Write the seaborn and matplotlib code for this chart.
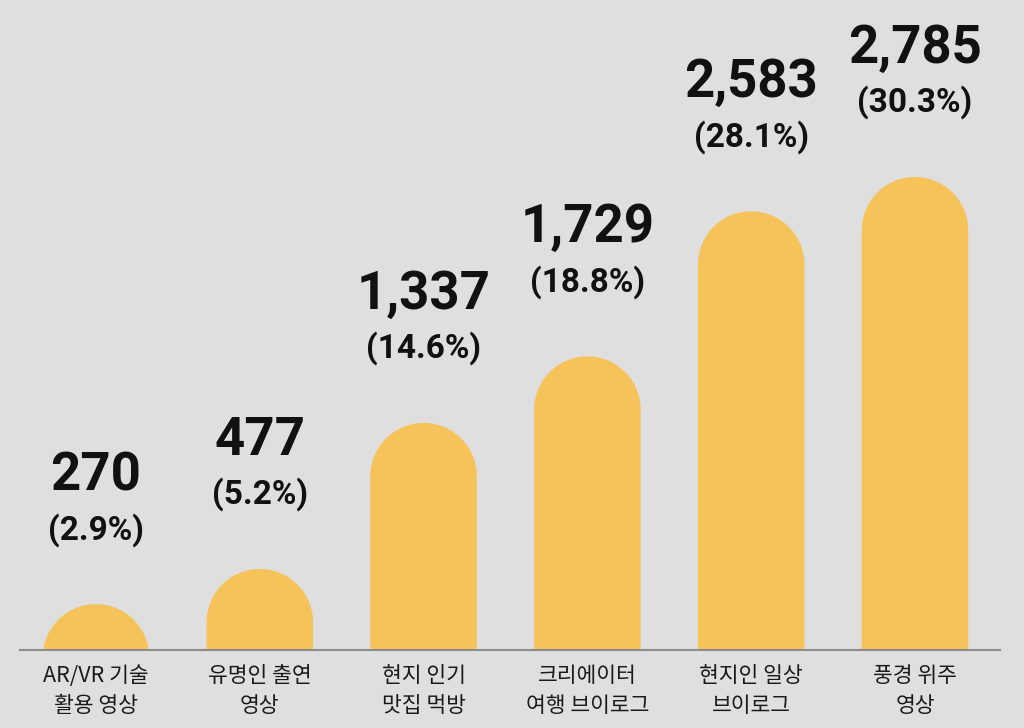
# Barres arrondies : nombre de vidéos par type de contenu
import numpy as np
import matplotlib
matplotlib.use("Agg")
import matplotlib.pyplot as plt
from matplotlib.patches import Polygon
import seaborn as sns

categories = ["AR/VR 기술\n활용 영상", "유명인 출연\n영상", "현지 인기\n맛집 먹방",
              "크리에이터\n여행 브이로그", "현지인 일상\n브이로그", "풍경 위주\n영상"]
counts   = [270, 477, 1337, 1729, 2583, 2785]
percents = [2.9, 5.2, 14.6, 18.8, 28.1, 30.3]

BG     = "#dfdfdf"
BAR    = "#f6c35b"
AXIS   = "#8c8c8c"
W, H   = 1024, 728
BAR_W  = 0.65

sns.set_theme(style="white")
plt.rcParams["font.family"] = ["Noto Sans CJK KR", "DejaVu Sans"]

fig = plt.figure(figsize=(W / 100, H / 100), dpi=100, facecolor=BG)
# axe : de x=20 à x=1000 px, ligne de base à 650 px depuis le haut
ax = fig.add_axes([20 / W, 78 / H, 980 / W, 650 / H])
ax.set_facecolor(BG)

sns.barplot(x=categories, y=counts, color=BAR, width=BAR_W, saturation=1, ax=ax)

ymax = max(counts) * 650 / 473
ax.set_ylim(0, ymax)
ax.set_xlim(-0.464, 5.519)

# rayon du haut arrondi en unités de données (cercle en pixels)
r_px = BAR_W / 2 * 980 / (5.519 + 0.464)
r_y  = r_px * ymax / 650
theta = np.linspace(np.pi, 0, 90)

# on remplace chaque barre par un seul polygone (rectangle + demi-cercle)
for patch in list(ax.patches):
    x, w, h = patch.get_x(), patch.get_width(), patch.get_height()
    patch.set_visible(False)
    cx, cy, rx = x + w / 2, h - r_y, w / 2
    low = min(0, cy) - 10
    arc = np.column_stack([cx + rx * np.cos(theta), cy + r_y * np.sin(theta)])
    verts = np.vstack([[x, low], [x, cy], arc, [x + w, cy], [x + w, low]])
    ax.add_patch(Polygon(verts, closed=True, facecolor=BAR, edgecolor="none"))

for i, (c, p) in enumerate(zip(counts, percents)):
    ax.annotate(f"{c:,}", xy=(i, c), xytext=(0, 114), textcoords="offset pixels",
                ha="center", va="baseline", fontsize=38, fontweight="bold",
                family=["Roboto", "DejaVu Sans"], color="#111111")
    ax.annotate(f"({p:.1f}%)", xy=(i, c), xytext=(0, 65), textcoords="offset pixels",
                ha="center", va="baseline", fontsize=24, fontweight="semibold",
                family=["Roboto", "DejaVu Sans"], color="#111111")

for s in ["top", "left", "right"]:
    ax.spines[s].set_visible(False)
ax.spines["bottom"].set_color(AXIS)
ax.spines["bottom"].set_linewidth(1.5)
ax.spines["bottom"].set_zorder(5)
ax.set_yticks([])
ax.set_xlabel("")
ax.tick_params(axis="x", length=0, pad=11, labelsize=15.5, colors="#1a1a1a")
for lbl in ax.get_xticklabels():
    lbl.set_linespacing(1.45)
    lbl.set_fontweight("light")

fig.savefig("out.png", dpi=100, facecolor=BG)
